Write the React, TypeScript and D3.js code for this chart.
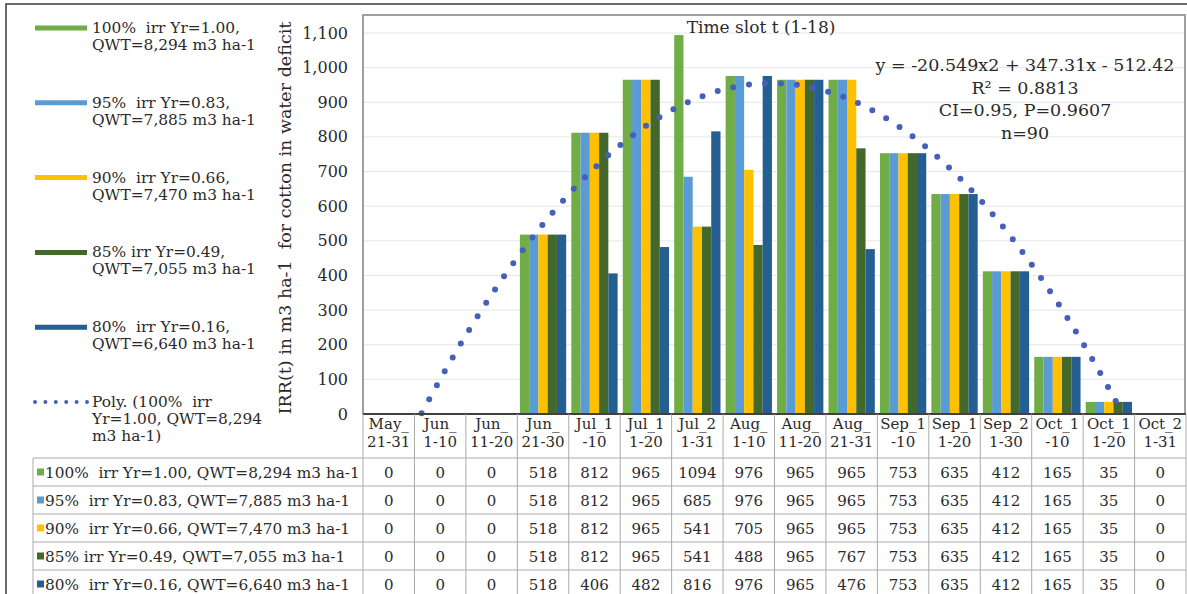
import React from "react";
import * as d3 from "d3";

const categories = [
  "May_21-31", "Jun_1-10", "Jun_11-20", "Jun_21-30", "Jul_1-10", "Jul_11-20",
  "Jul_21-31", "Aug_1-10", "Aug_11-20", "Aug_21-31", "Sep_1-10", "Sep_11-20",
  "Sep_21-30", "Oct_1-10", "Oct_11-20", "Oct_21-31",
];
const categoryLines = [
  ["May_", "21-31"], ["Jun_", "1-10"], ["Jun_", "11-20"], ["Jun_", "21-30"],
  ["Jul_1", "-10"], ["Jul_1", "1-20"], ["Jul_2", "1-31"], ["Aug_", "1-10"],
  ["Aug_", "11-20"], ["Aug_", "21-31"], ["Sep_1", "-10"], ["Sep_1", "1-20"],
  ["Sep_2", "1-30"], ["Oct_1", "-10"], ["Oct_1", "1-20"], ["Oct_2", "1-31"],
];

const irr100 = [0, 0, 0, 518, 812, 965, 1094, 976, 965, 965, 753, 635, 412, 165, 35, 0];
const irr95 = [0, 0, 0, 518, 812, 965, 685, 976, 965, 965, 753, 635, 412, 165, 35, 0];
const irr90 = [0, 0, 0, 518, 812, 965, 541, 705, 965, 965, 753, 635, 412, 165, 35, 0];
const irr85 = [0, 0, 0, 518, 812, 965, 541, 488, 965, 767, 753, 635, 412, 165, 35, 0];
const irr80 = [0, 0, 0, 518, 406, 482, 816, 976, 965, 476, 753, 635, 412, 165, 35, 0];

const seriesNames = [
  "100%  irr Yr=1.00, QWT=8,294 m3 ha-1",
  "95%  irr Yr=0.83, QWT=7,885 m3 ha-1",
  "90%  irr Yr=0.66, QWT=7,470 m3 ha-1",
  "85% irr Yr=0.49, QWT=7,055 m3 ha-1",
  "80%  irr Yr=0.16, QWT=6,640 m3 ha-1",
];
const legendLines = [
  ["100%  irr Yr=1.00,", "QWT=8,294 m3 ha-1"],
  ["95%  irr Yr=0.83,", "QWT=7,885 m3 ha-1"],
  ["90%  irr Yr=0.66,", "QWT=7,470 m3 ha-1"],
  ["85% irr Yr=0.49,", "QWT=7,055 m3 ha-1"],
  ["80%  irr Yr=0.16,", "QWT=6,640 m3 ha-1"],
];
const trendLegendLines = ["Poly. (100%  irr", "Yr=1.00, QWT=8,294", "m3 ha-1)"];
const seriesColors = ["#70AD47", "#5B9BD5", "#FFC000", "#43682B", "#255E91"];
const trendColor = "#4460B8";

const yTicks = [0, 100, 200, 300, 400, 500, 600, 700, 800, 900, 1000, 1100];
const trendCoefficients = [-20.549, 347.31, -512.42];
const trendLabelLines = ["y = -20.549x2 + 347.31x - 512.42", "R\u00B2 = 0.8813", "CI=0.95, P=0.9607", "n=90"];
const chartTitle = "Time slot t (1-18)";
const yAxisTitle = "IRR(t) in m3 ha-1  for cotton in water deficit";

const W = 1187;
const H = 594;
const FONT = "'DejaVu Serif', serif";
const PRE = { whiteSpace: "pre" as const };

export default function App() {
  const series = [irr100, irr95, irr90, irr85, irr80];
  const plotL = 363, plotR = 1186, plotT = 15, base = 414;
  const x = d3.scaleBand<string>().domain(categories).range([plotL, plotR]).paddingInner(0.1).paddingOuter(0.05);
  const step = (plotR - plotL) / categories.length;
  const sub = d3.scaleBand<number>().domain(d3.range(series.length)).range([0, x.bandwidth()]);
  const y = d3.scaleLinear().domain([0, 1100]).range([base, 33]);

  const tx = d3.scaleLinear().domain([1, categories.length]).range([
    (x(categories[0]) as number) + x.bandwidth() / 2,
    (x(categories[categories.length - 1]) as number) + x.bandwidth() / 2,
  ]);
  const [a, b, c] = trendCoefficients;
  const pts: [number, number][] = [];
  for (let t = 1; t <= categories.length + 1e-9; t += 0.01) {
    const v = a * t * t + b * t + c;
    if (v >= 0) pts.push([tx(t), y(v)]);
  }
  const trendPath = d3.line()(pts) || "";

  const rowTop = 458, rowH = 28, tableL = 33;
  const legendY0 = 28, legendStep = 74.8;
  const txt = "#2a2a2a";

  return (
    <svg width={W} height={H} style={{ position: "absolute", left: 0, top: 0, background: "#fff" }} fontFamily={FONT}>
      <rect x={0} y={0} width={W} height={H} fill="#fff" />
      {/* outer frame */}
      <rect x={6} y={4} width={W + 10} height={H + 10} fill="none" stroke="#3a3a3a" strokeWidth={1.5} />

      {/* gridlines */}
      {yTicks.filter((t) => t > 0).map((t) => (
        <line key={t} x1={plotL} x2={plotR} y1={y(t)} y2={y(t)} stroke="#E6E6E6" strokeWidth={1} />
      ))}
      {/* plot area border */}
      <rect x={plotL} y={plotT} width={plotR - plotL - 1} height={base - plotT} fill="none" stroke="#A0A0A0" strokeWidth={2} />

      {/* bars */}
      {series.map((s, si) =>
        s.map((v, ci) =>
          v > 0 ? (
            <rect
              key={`${si}-${ci}`}
              x={(x(categories[ci]) as number) + (sub(si) as number)}
              y={y(v)}
              width={sub.bandwidth()}
              height={base - y(v)}
              fill={seriesColors[si]}
            />
          ) : null
        )
      )}

      {/* trendline */}
      <path d={trendPath} fill="none" stroke={trendColor} strokeWidth={6} strokeLinecap="round" strokeDasharray="0 16" />

      {/* axis baseline */}
      <line x1={plotL} x2={plotR} y1={base} y2={base} stroke="#404040" strokeWidth={2} />

      {/* y ticks */}
      {yTicks.map((t) => (
        <text key={t} x={348} y={y(t)} textAnchor="end" dominantBaseline="central" fontSize={16} fill={txt}>
          {d3.format(",")(t)}
        </text>
      ))}
      <text transform={`translate(285,${218}) rotate(-90)`} textAnchor="middle" dominantBaseline="central" fontSize={17.5} fill={txt} xmlSpace="preserve" style={PRE}>
        {yAxisTitle}
      </text>

      {/* title & equation */}
      <text x={761} y={27} textAnchor="middle" dominantBaseline="central" fontSize={17} fill={txt}>{chartTitle}</text>
      {trendLabelLines.map((l, i) => (
        <text key={i} x={1025} y={65 + i * 22.7} textAnchor="middle" dominantBaseline="central" fontSize={17.5} fill={txt}>{l}</text>
      ))}

      {/* legend */}
      {legendLines.map((lines, i) => (
        <g key={i}>
          <line x1={35} x2={87} y1={legendY0 + i * legendStep} y2={legendY0 + i * legendStep} stroke={seriesColors[i]} strokeWidth={5} />
          {lines.map((l, j) => (
            <text key={j} x={92} y={legendY0 + i * legendStep + j * 17} dominantBaseline="central" fontSize={15.4} fill={txt} xmlSpace="preserve" style={PRE}>{l}</text>
          ))}
        </g>
      ))}
      <g>
        <line x1={35} x2={87} y1={legendY0 + 5 * legendStep} y2={legendY0 + 5 * legendStep} stroke={trendColor} strokeWidth={4} strokeLinecap="round" strokeDasharray="0 10.4" />
        {trendLegendLines.map((l, j) => (
          <text key={j} x={92} y={legendY0 + 5 * legendStep + j * 17} dominantBaseline="central" fontSize={15.4} fill={txt} xmlSpace="preserve" style={PRE}>{l}</text>
        ))}
      </g>

      {/* data table */}
      {d3.range(categories.length + 1).map((i) => (
        <line key={`v${i}`} x1={plotL + i * step} x2={plotL + i * step} y1={base} y2={H + 5} stroke="#AAAAAA" strokeWidth={1} />
      ))}
      <line x1={tableL} x2={tableL} y1={rowTop} y2={H + 5} stroke="#AAAAAA" strokeWidth={1} />
      {d3.range(series.length + 1).map((r) => (
        <line key={`h${r}`} x1={tableL} x2={plotR} y1={rowTop + r * rowH} y2={rowTop + r * rowH} stroke="#AAAAAA" strokeWidth={1} />
      ))}
      {categoryLines.map((ls, ci) => (
        <g key={ci}>
          {ls.map((l, j) => (
            <text key={j} x={plotL + (ci + 0.5) * step} y={424 + j * 18} textAnchor="middle" dominantBaseline="central" fontSize={15} fill={txt}>{l}</text>
          ))}
        </g>
      ))}
      {series.map((s, si) => (
        <g key={si}>
          <rect x={37} y={rowTop + si * rowH + rowH / 2 - 3.5} width={7} height={7} fill={seriesColors[si]} />
          <text x={45} y={rowTop + si * rowH + rowH / 2 + 1} dominantBaseline="central" fontSize={15.3} fill={txt} xmlSpace="preserve" style={PRE}>{seriesNames[si]}</text>
          {s.map((v, ci) => (
            <text key={ci} x={plotL + (ci + 0.5) * step} y={rowTop + si * rowH + rowH / 2 + 1} textAnchor="middle" dominantBaseline="central" fontSize={15} fill={txt}>{v}</text>
          ))}
        </g>
      ))}
    </svg>
  );
}
